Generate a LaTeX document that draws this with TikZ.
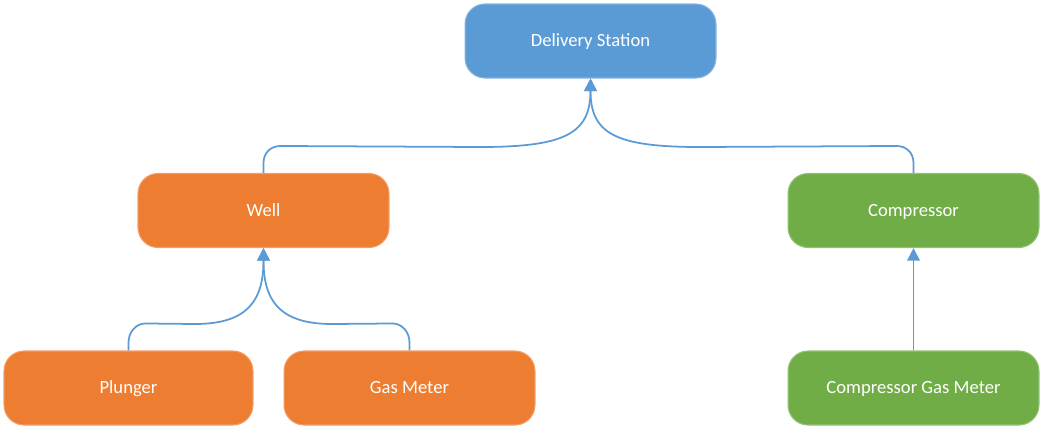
\documentclass[tikz,border=0pt]{standalone}
\usepackage{fontspec}
\setmainfont{Carlito}
\definecolor{Blue}{HTML}{5B9BD5}
\definecolor{Orange}{HTML}{ED7D31}
\definecolor{Green}{HTML}{70AD47}
\usetikzlibrary{arrows.meta}

\begin{document}
\begin{tikzpicture}[
  x=0.02cm,y=-0.02cm,
  font=\fontsize{10.6}{12}\selectfont,
  box/.style={rounded corners=4mm,minimum width=5.02cm,minimum height=1.48cm,
    text=white,line width=.6pt,inner sep=0pt,text height=1.6ex,text depth=.2ex},
  station/.style={box,fill=Blue,draw=Blue!75!white},
  site/.style={box,fill=Orange,draw=Orange!75!white},
  comp/.style={box,fill=Green,draw=Green!75!white},
  link/.style={-{Triangle[length=2.5mm,width=2.5mm]},line width=1pt,draw=Blue}
]
% Pixel coordinates of the reference, y pointing down.
\useasboundingbox (0,0) rectangle (1042,434);

\node[station] (station) at (590.5,41) {Delivery Station};

\node[site] (well) at (263.5,210.5) {Well};
\node[comp] (compressor) at (913.5,210.5) {Compressor};

\node[site,minimum width=4.98cm] (plunger) at (128.5,388) {Plunger};
\node[site] (meter) at (409.5,388) {Gas Meter};
\node[comp] (compmeter) at (913.5,388) {Compressor Gas Meter};

% Rounded elbows that sweep up into the parent's bottom edge.
\draw[link] (well.north) -- ++(0,-10) .. controls +(0,-10) and +(-10,0) .. ++(17,-17)
  -- (480,147) .. controls +(85,0) and +(0,55) .. (station.south);
\draw[link] (compressor.north) -- ++(0,-10) .. controls +(0,-10) and +(10,0) .. ++(-17,-17)
  -- (700,147) .. controls +(-85,0) and +(0,55) .. (station.south);

\draw[link] (plunger.north) -- ++(0,-8) .. controls +(0,-10) and +(-10,0) .. ++(17,-19)
  -- (195,324) .. controls +(55,0) and +(0,50) .. (well.south);
\draw[link] (meter.north) -- ++(0,-8) .. controls +(0,-10) and +(10,0) .. ++(-17,-19)
  -- (332,324) .. controls +(-55,0) and +(0,50) .. (well.south);

\draw[link] (compmeter) -- (compressor);
\end{tikzpicture}
\end{document}
